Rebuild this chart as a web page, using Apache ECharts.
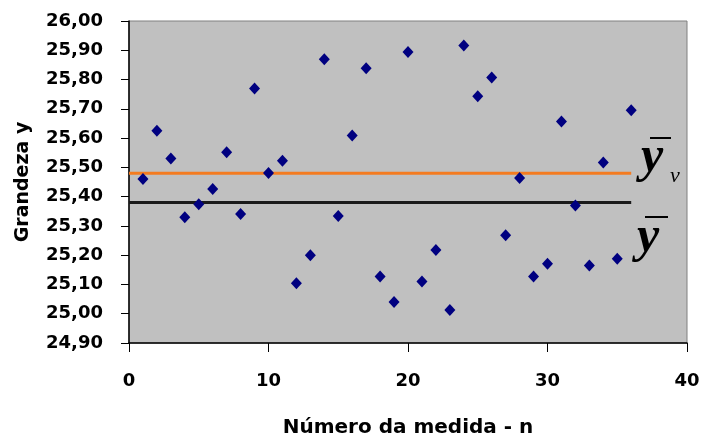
<!DOCTYPE html>
<html>
<head>
<meta charset="utf-8">
<script src="https://cdn.jsdelivr.net/npm/echarts@6/dist/echarts.min.js"></script>
<style>
  html, body { margin: 0; padding: 0; background: #fff; }
  #chart { width: 703px; height: 443px; }
</style>
</head>
<body>
<div id="chart"></div>
<script>
// número da medida (n) e grandeza y medida
const medidaN = [1, 2, 3, 4, 5, 6, 7, 8, 9, 10, 11, 12, 13, 14, 15, 16, 17, 18,
    19, 20, 21, 22, 23, 24, 25, 26, 27, 28, 29, 30, 31, 32, 33, 34, 35, 36];
const grandezaY = [25.46, 25.625, 25.53, 25.33, 25.374, 25.426, 25.552, 25.341, 25.769, 25.481,
    25.523, 25.104, 25.20, 25.869, 25.334, 25.609, 25.839, 25.127, 25.04, 25.894,
    25.11, 25.218, 25.013, 25.916, 25.743, 25.807, 25.268, 25.464, 25.127, 25.171,
    25.657, 25.37, 25.165, 25.517, 25.188, 25.695];
const linhaX = [0, 36];          // extensão das linhas de média
const mediaV = 25.48;           // ȳ_v
const media = 25.38;            // ȳ

let chart = echarts.init(document.getElementById('chart'));

let pontos = medidaN.map((n, i) => [n, grandezaY[i]]);
let labelFont = {fontFamily: 'DejaVu Sans', fontWeight: 'bold', color: '#000'};

let option = {
    backgroundColor: '#fff',
    animation: false,
    grid: {
        left: 129, right: 16, top: 21, bottom: 97,
        show: true,
        backgroundColor: '#C0C0C0',
        borderColor: '#808080',
        borderWidth: 1
    },
    xAxis: {
        type: 'value',
        min: 0, max: 40, interval: 10,
        name: 'Número da medida - n',
        nameLocation: 'middle',
        nameGap: 75,
        nameTextStyle: Object.assign({fontSize: 20}, labelFont),
        axisLine: {onZero: false, lineStyle: {color: '#000', width: 1.5}},
        axisTick: {show: true, inside: false, length: 9, lineStyle: {color: '#000'}},
        axisLabel: Object.assign({fontSize: 18, margin: 29}, labelFont),
        splitLine: {show: false}
    },
    yAxis: {
        type: 'value',
        min: 24.9, max: 26, interval: 0.1,
        name: 'Grandeza y',
        nameLocation: 'middle',
        nameGap: 96,
        nameTextStyle: Object.assign({fontSize: 19}, labelFont),
        axisLine: {show: true, onZero: false, lineStyle: {color: '#000', width: 1.5}},
        axisTick: {show: true, inside: false, length: 8, lineStyle: {color: '#000'}},
        axisLabel: Object.assign({
            fontSize: 18, margin: 26,
            formatter: v => v.toFixed(2).replace('.', ',')
        }, labelFont),
        splitLine: {show: false}
    },
    series: [
        {
            name: 'ȳv',
            type: 'line',
            data: linhaX.map(x => [x, mediaV]),
            symbol: 'none',
            lineStyle: {color: '#F47B20', width: 3},
            z: 2
        },
        {
            name: 'ȳ',
            type: 'line',
            data: linhaX.map(x => [x, media]),
            symbol: 'none',
            lineStyle: {color: '#1a1a1a', width: 3},
            z: 2
        },
        {
            name: 'y',
            type: 'scatter',
            data: pontos,
            symbol: 'diamond',
            symbolSize: [11, 12],
            itemStyle: {color: '#000080', opacity: 1},
            z: 3
        }
    ],
    graphic: [
        // rótulo ȳ_v
        {type: 'line', shape: {x1: 650, y1: 138, x2: 671, y2: 138}, style: {stroke: '#000', lineWidth: 2}, z: 10},
        {type: 'text', x: 641, y: 158, style: {text: 'y', font: 'italic bold 50px "Liberation Serif"', fill: '#000', textVerticalAlign: 'middle'}, z: 10},
        {type: 'text', x: 670, y: 176, style: {text: 'v', font: 'italic 22px "Liberation Serif"', fill: '#000', textVerticalAlign: 'middle'}, z: 10},
        // rótulo ȳ
        {type: 'line', shape: {x1: 645, y1: 217, x2: 668, y2: 217}, style: {stroke: '#000', lineWidth: 2}, z: 10},
        {type: 'text', x: 637, y: 238, style: {text: 'y', font: 'italic bold 50px "Liberation Serif"', fill: '#000', textVerticalAlign: 'middle'}, z: 10}
    ]
};
chart.setOption(option);
</script>
</body>
</html>
